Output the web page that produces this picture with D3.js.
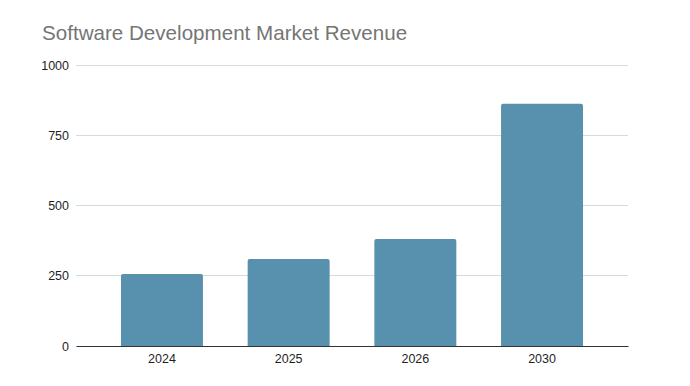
<!DOCTYPE html>
<meta charset="utf-8">
<html>
<head>
    <style>
        body {
            margin: 0;
            background: #fff;
            font-family: 'Liberation Sans', Arial, sans-serif;
        }
        .grid line {
            stroke: #d9d9d9;
            shape-rendering: crispEdges;
        }
        .axis text {
            font-size: 12.5px;
            fill: #1f1f1f;
        }
        .bar {
            fill: #5891ae;
        }
    </style>
</head>
<body>
    <svg id="chart"></svg>

    <script src="https://cdn.jsdelivr.net/npm/d3@7"></script>
    <script>

        // data
        var years = ["2024", "2025", "2026", "2030"];
        var revenue = [256, 310, 381, 862];
        var yTicks = [0, 250, 500, 750, 1000];

        var width = 690, height = 386;
        var margin = { top: 65, right: 62, bottom: 40, left: 76 };
        var innerW = width - margin.left - margin.right,
            innerH = 346 - margin.top;

        var svg = d3.select("#chart")
            .attr("width", width)
            .attr("height", height);

        svg.append("text")
            .attr("x", 42)
            .attr("y", 40)
            .attr("font-size", "20.6px")
            .attr("fill", "#757575")
            .text("Software Development Market Revenue");

        var g = svg.append("g")
            .attr("transform", "translate(" + margin.left + "," + margin.top + ")");

        var x = d3.scaleBand()
            .domain(years)
            .range([0, innerW])
            .paddingInner(0.353)
            .paddingOuter(0.355);

        var y = d3.scaleLinear()
            .domain([0, 1000])
            .range([innerH, 0]);

        // gridlines
        g.append("g")
            .attr("class", "grid")
            .selectAll("line")
            .data(yTicks.filter(function (d) { return d > 0; }))
            .enter().append("line")
            .attr("x1", 0)
            .attr("x2", innerW)
            .attr("y1", function (d) { return y(d); })
            .attr("y2", function (d) { return y(d); });

        // bars with slightly rounded top
        var r = 2;
        g.selectAll(".bar")
            .data(years)
            .enter().append("path")
            .attr("class", "bar")
            .attr("d", function (d, i) {
                var x0 = x(d), x1 = x(d) + x.bandwidth();
                var y0 = y(revenue[i]), yb = y(0);
                return "M" + x0 + "," + yb +
                    "V" + (y0 + r) +
                    "Q" + x0 + "," + y0 + " " + (x0 + r) + "," + y0 +
                    "H" + (x1 - r) +
                    "Q" + x1 + "," + y0 + " " + x1 + "," + (y0 + r) +
                    "V" + yb + "Z";
            });

        // y axis labels
        var yAxis = g.append("g")
            .attr("class", "axis")
            .call(d3.axisLeft(y).tickValues(yTicks).tickFormat(d3.format("d")).tickSize(0).tickPadding(7));
        yAxis.select(".domain").remove();

        // x axis
        var xAxis = g.append("g")
            .attr("class", "axis")
            .attr("transform", "translate(0," + innerH + ")")
            .call(d3.axisBottom(x).tickSize(0).tickPadding(8));
        xAxis.select(".domain")
            .attr("stroke", "#333")
            .attr("stroke-width", 1.2);

    </script>
</body>
</html>
